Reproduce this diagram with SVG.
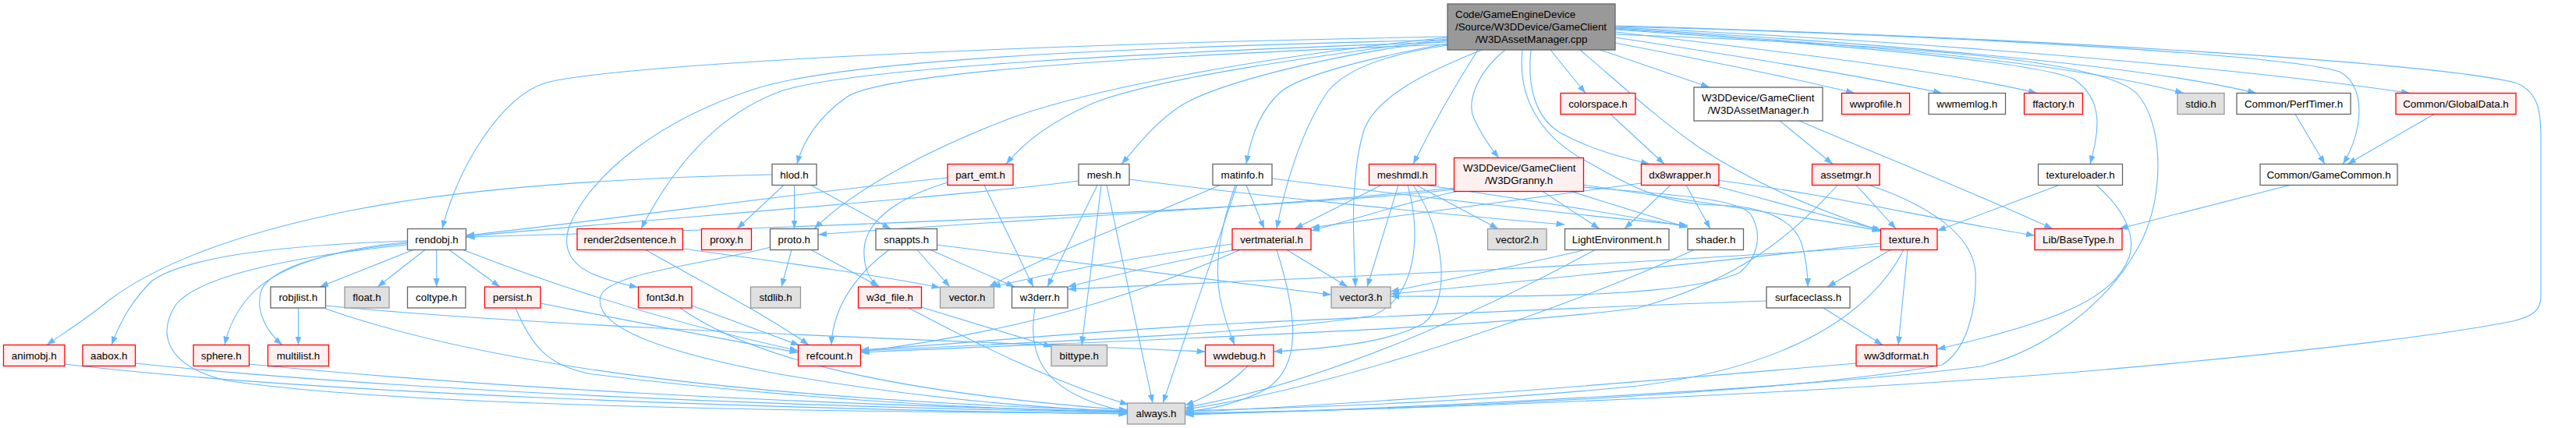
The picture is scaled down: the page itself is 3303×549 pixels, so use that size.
<svg xmlns="http://www.w3.org/2000/svg" width="3303" height="549" viewBox="0 0 3303 549">
<defs>
<marker id="ah" viewBox="0 0 11 8" refX="11" refY="4" markerWidth="11" markerHeight="8" markerUnits="userSpaceOnUse" orient="auto"><path d="M0,0L11,4L0,8z" fill="#63b8ff"/></marker>
<style>
.e path{fill:none;stroke:#63b8ff;stroke-width:1.1;marker-end:url(#ah)}
rect{stroke-width:1.3}
.w{fill:#ffffff;stroke:#666666}
.g{fill:#e0e0e0;stroke:#999999}
.r{fill:#fff0f0;stroke:#ff0000}
.m{fill:#999999;stroke:#666666}
text{font-family:"Liberation Sans",Arial,sans-serif;font-size:13.33px;fill:#000000;text-anchor:middle}
text.l{text-anchor:start}
</style>
</defs>
<rect width="3303" height="549" fill="#ffffff"/>
<g class="e" id="edges">
<path d="M1856,47 C1400,55 820,78 700,106 C640,125 585,220 567,293.5"/>
<path d="M1856,51 C1400,62 1080,78 968,114 C850,152 760,220 730,290 C715,335 750,355 818,368.5"/>
<path d="M1856,54 C1500,66 1100,86 1004,116 C930,142 870,200 822,293.5"/>
<path d="M1856,57 C1500,70 1130,92 1085,125 C1050,150 1030,180 1022,210.5"/>
<path d="M1856,48 C1600,75 1400,115 1300,150 C1200,188 1100,238 1044,293.5"/>
<path d="M1856,50 C1700,70 1480,100 1400,133 C1350,155 1315,180 1290,210.5"/>
<path d="M1856,52 C1700,70 1560,108 1515,135 C1480,158 1460,185 1438,210.5"/>
<path d="M1856,56 C1750,75 1665,98 1642,118 C1615,142 1603,180 1598,210.5"/>
<path d="M1856,58 C1760,72 1720,95 1702,118 C1670,165 1648,235 1637,293.5"/>
<path d="M1900,64 C1840,88 1762,122 1748,170 C1730,232 1736,320 1738,368"/>
<path d="M1895,64 C1872,100 1842,150 1812,210.5"/>
<path d="M1930,64 C1895,92 1880,130 1890,152 C1898,170 1910,188 1922,202.5"/>
<path d="M1988,64 L2033,119.5"/>
<path d="M1963,64 C1958,110 1968,150 2000,170 C2040,192 2080,202 2115,210.5"/>
<path d="M1952,64 C1945,130 1980,180 2040,210 C2100,245 2140,262 2200,263 C2262,264 2300,282 2310,312 C2316,332 2318,350 2318,368"/>
<path d="M2026,64 C2080,110 2125,152 2180,190 C2260,242 2340,272 2414,297"/>
<path d="M2052,64 L2192,112"/>
<path d="M2071,55 C2200,80 2300,100 2378,119.5"/>
<path d="M2071,48 C2250,75 2400,100 2490,119.5"/>
<path d="M2071,41 C2300,68 2500,92 2612,119.5"/>
<path d="M2071,38 C2400,60 2620,82 2660,102 C2700,130 2690,172 2680,210.5"/>
<path d="M2071,37 C2400,58 2650,80 2800,119.5"/>
<path d="M2071,36 C2400,55 2740,82 2893,119.5"/>
<path d="M2071,35 C2500,55 2880,88 3090,119.5"/>
<path d="M2071,34 C2500,45 2930,70 3000,92 C3035,110 3030,170 3004,210.5"/>
<path d="M2071,33 C2600,48 3120,80 3225,106 C3258,118 3258,150 3258,180 L3258,380 C3258,400 3245,406 3222,412 C3080,440 2800,465 2700,474 C2400,500 1900,524 1519.5,530"/>
<path d="M2071,44 C2500,60 2700,80 2740,120 C2776,160 2776,260 2740,320 C2700,392 2620,450 2540,470 C2300,500 1800,524 1519.5,532"/>
<path d="M2065,146.5 L2134,210.5"/>
<path d="M2282,155 L2350,210.5"/>
<path d="M2307,155 C2400,195 2550,255 2632,293.5"/>
<path d="M2943,146.5 L2981,210.5"/>
<path d="M3121,146.5 L3010,210.5"/>
<path d="M2936,237.5 L2717,293.5"/>
<path d="M990,224 C800,228 600,240 450,270 C300,300 200,340 140,385 C110,410 80,428 60,442.5"/>
<path d="M1005,237.5 L945,293.5"/>
<path d="M1018.5,237.5 L1018.5,293.5"/>
<path d="M1040,237.5 L1142,293.5"/>
<path d="M1215,228 C1000,250 800,280 597.5,302"/>
<path d="M1215,234 C1160,250 1110,280 1108,320 C1107,345 1115,358 1126,368"/>
<path d="M1262,237.5 L1325,368"/>
<path d="M1383,232 C1250,250 900,276 597.5,303"/>
<path d="M1407,237.5 L1343,368"/>
<path d="M1412,237.5 L1387,442.5"/>
<path d="M1419,237.5 L1478,517"/>
<path d="M1448,230 C1600,250 1850,275 2006.5,288"/>
<path d="M1598,237.5 L1621,293.5"/>
<path d="M1564,237.5 C1480,275 1350,322 1268,368"/>
<path d="M1586,237.5 L1491,517"/>
<path d="M1584,237.5 C1565,290 1557,340 1564,380 C1570,410 1578,430 1583,442.5"/>
<path d="M1631,229 C1800,250 2000,274 2164,289"/>
<path d="M1771,237.5 L1660,293.5"/>
<path d="M1793,237.5 L1753,368"/>
<path d="M1816,237.5 L1921,293.5"/>
<path d="M1828,237.5 C1950,255 2080,276 2164,291"/>
<path d="M1805,237.5 C1822,300 1818,380 1760,405 C1600,430 1300,440 1103.5,450"/>
<path d="M1812,237.5 C1855,300 1860,390 1825,415 C1780,440 1700,447 1633,451"/>
<path d="M1864.5,243 C1700,262 1200,288 597.5,304"/>
<path d="M1864.5,241 C1600,268 1250,285 1049,301"/>
<path d="M1868,245.5 C1800,260 1750,278 1681,296"/>
<path d="M1978,245.5 L2051,293.5"/>
<path d="M2014,245.5 L2164,292"/>
<path d="M2030.5,237 C2150,255 2300,276 2411.5,296"/>
<path d="M2030.5,240 C2150,250 2230,255 2245,275 C2260,300 2255,330 2230,350 C2150,385 1900,380 1783,380"/>
<path d="M2104.5,235 C1950,255 1800,276 1681,292"/>
<path d="M2142,237.5 L2083,293.5"/>
<path d="M2162,237.5 L2193,293.5"/>
<path d="M2196,237.5 C2280,260 2350,280 2411.5,295"/>
<path d="M2204,231.5 C2350,250 2480,282 2609,302"/>
<path d="M2380,237.5 L2431,293.5"/>
<path d="M2356,237.5 C2300,300 2230,360 2100,395 C1900,422 1500,434 1103.5,452"/>
<path d="M2397,237.5 C2470,262 2530,300 2533,350 C2535,400 2520,450 2490,468 C2300,505 1800,526 1519.5,531"/>
<path d="M2640,237.5 L2484,296"/>
<path d="M2688,237.5 C2720,265 2740,300 2730,330 C2710,380 2650,410 2483.5,448"/>
<path d="M2172,320.5 C2000,400 1700,500 1519.5,525"/>
<path d="M2032,320.5 C1950,340 1850,360 1783,374"/>
<path d="M2045,320.5 C1900,400 1700,490 1519.5,523"/>
<path d="M2424,320.5 L2343,368"/>
<path d="M2446,320.5 L2434,442.5"/>
<path d="M2441,320.5 C2400,400 2300,470 2100,495 C1900,515 1700,522 1519.5,527"/>
<path d="M2411.5,312 C2200,335 1950,362 1783,377"/>
<path d="M2411.5,316 C2000,345 1600,360 1369,371"/>
<path d="M2338,395 L2414,442.5"/>
<path d="M2265,386 C2000,395 1700,410 1600,414 C1400,424 1250,440 1103.5,449"/>
<path d="M1650,320.5 L1728,368"/>
<path d="M1580,313 C1450,330 1350,350 1272,368"/>
<path d="M1583,320.5 C1480,340 1420,355 1369,368"/>
<path d="M1590,320.5 C1500,360 1350,420 1103.5,451"/>
<path d="M1637,320.5 C1662,400 1672,470 1622,500 C1582,520 1550,525 1519.5,528"/>
<path d="M1181.5,394 L1349,445"/>
<path d="M1165,395 C1250,440 1350,490 1447,519"/>
<path d="M1327,395 C1318,450 1330,505 1445.5,528"/>
<path d="M1176,320.5 L1218,368"/>
<path d="M1193,320.5 L1301,368"/>
<path d="M1140,320.5 C1100,350 1068,392 1066,442.5"/>
<path d="M1201.5,314 C1400,340 1600,366 1707,378"/>
<path d="M1015,320.5 L1002,368"/>
<path d="M1040,320.5 L1128,368"/>
<path d="M988,317 C900,340 780,350 770,380 C760,420 850,452 1000,480 C1150,506 1300,522 1445.5,528"/>
<path d="M828,320.5 C900,362 980,402 1037,442.5"/>
<path d="M875.5,319 C1000,336 1120,352 1205.5,369"/>
<path d="M530,320.5 L410,368"/>
<path d="M545,320.5 L484,368"/>
<path d="M559.75,320.5 L559.75,368"/>
<path d="M576,320.5 L641,368"/>
<path d="M594,320.5 C700,362 850,412 1023.5,450"/>
<path d="M522.5,309 C350,315 240,330 195,360 C170,385 155,410 143,442.5"/>
<path d="M522.5,310.5 C420,320 350,345 320,380 C302,400 293,420 288,442.5"/>
<path d="M522.5,312 C420,322 352,342 336,370 C326,395 340,424 362,442.5"/>
<path d="M522.5,314 C400,326 260,350 226,390 C200,430 215,470 290,488 C500,520 1000,528 1445.5,530"/>
<path d="M382.5,395 L382.5,442.5"/>
<path d="M417.5,392 C700,420 1200,436 1545.5,451"/>
<path d="M417.5,396 C600,460 900,510 1445.5,527"/>
<path d="M83,467 C400,505 1000,525 1445.5,531"/>
<path d="M173.5,466 C500,500 1000,522 1445.5,529"/>
<path d="M319.5,467 C600,495 1000,518 1445.5,528"/>
<path d="M693,389 C850,420 950,440 1023.5,452"/>
<path d="M661,395 C680,440 700,470 760,480 C1000,510 1250,525 1445.5,529"/>
<path d="M887,392 C950,415 990,430 1025,443"/>
<path d="M872,395 C950,450 1100,500 1445.5,526"/>
<path d="M2380,466 C2100,490 1800,515 1519.5,529"/>
<path d="M1600,469.5 C1580,490 1550,508 1519.5,520"/>
</g>
<g id="n_main"><rect class="m" x="1856" y="5" width="215" height="59"/><text class="l" x="1866" y="23">Code/GameEngineDevice</text><text class="l" x="1866" y="39">/Source/W3DDevice/GameClient</text><text x="1963.5" y="55">/W3DAssetManager.cpp</text></g>
<g id="n_colorspace"><rect class="r" x="2001" y="119.5" width="96" height="27"/><text x="2049" y="137.8">colorspace.h</text></g>
<g id="n_w3dam_h"><rect class="w" x="2172" y="112" width="165" height="43"/><text class="l" x="2182" y="130.2">W3DDevice/GameClient</text><text x="2254.5" y="146.2">/W3DAssetManager.h</text></g>
<g id="n_wwprofile"><rect class="r" x="2361.5" y="119.5" width="87" height="27"/><text x="2405" y="137.8">wwprofile.h</text></g>
<g id="n_wwmemlog"><rect class="w" x="2473" y="119.5" width="98.5" height="27"/><text x="2522.25" y="137.8">wwmemlog.h</text></g>
<g id="n_ffactory"><rect class="r" x="2595.5" y="119.5" width="75" height="27"/><text x="2633" y="137.8">ffactory.h</text></g>
<g id="n_stdio"><rect class="g" x="2792" y="119.5" width="60" height="27"/><text x="2822" y="137.8">stdio.h</text></g>
<g id="n_perftimer"><rect class="w" x="2868" y="119.5" width="146" height="27"/><text x="2941" y="137.8">Common/PerfTimer.h</text></g>
<g id="n_globaldata"><rect class="r" x="3072" y="119.5" width="154" height="27"/><text x="3149" y="137.8">Common/GlobalData.h</text></g>
<g id="n_hlod"><rect class="w" x="990" y="210.5" width="57" height="27"/><text x="1018.5" y="228.8">hlod.h</text></g>
<g id="n_part_emt"><rect class="r" x="1215" y="210.5" width="84" height="27"/><text x="1257" y="228.8">part_emt.h</text></g>
<g id="n_mesh"><rect class="w" x="1383" y="210.5" width="65" height="27"/><text x="1415.5" y="228.8">mesh.h</text></g>
<g id="n_matinfo"><rect class="w" x="1555" y="210.5" width="76" height="27"/><text x="1593" y="228.8">matinfo.h</text></g>
<g id="n_meshmdl"><rect class="r" x="1755.5" y="210.5" width="85.5" height="27"/><text x="1798.25" y="228.8">meshmdl.h</text></g>
<g id="n_granny"><rect class="r" x="1864.5" y="202.5" width="166" height="43"/><text class="l" x="1876" y="220.2">W3DDevice/GameClient</text><text x="1947.5" y="236.2">/W3DGranny.h</text></g>
<g id="n_dx8wrapper"><rect class="r" x="2104.5" y="210.5" width="99.5" height="27"/><text x="2154.25" y="228.8">dx8wrapper.h</text></g>
<g id="n_assetmgr"><rect class="r" x="2323.5" y="210.5" width="86.5" height="27"/><text x="2366.75" y="228.8">assetmgr.h</text></g>
<g id="n_textureloader"><rect class="w" x="2613.5" y="210.5" width="108" height="27"/><text x="2667.5" y="228.8">textureloader.h</text></g>
<g id="n_gamecommon"><rect class="w" x="2898" y="210.5" width="176" height="27"/><text x="2986" y="228.8">Common/GameCommon.h</text></g>
<g id="n_rendobj"><rect class="w" x="522.5" y="293.5" width="75" height="27"/><text x="560" y="311.8">rendobj.h</text></g>
<g id="n_render2dsentence"><rect class="r" x="740" y="293.5" width="135.5" height="27"/><text x="807.75" y="311.8">render2dsentence.h</text></g>
<g id="n_proxy"><rect class="r" x="899.5" y="293.5" width="64" height="27"/><text x="931.5" y="311.8">proxy.h</text></g>
<g id="n_proto"><rect class="w" x="987.5" y="293.5" width="61.5" height="27"/><text x="1018.25" y="311.8">proto.h</text></g>
<g id="n_snappts"><rect class="w" x="1123" y="293.5" width="78.5" height="27"/><text x="1162.25" y="311.8">snappts.h</text></g>
<g id="n_vertmaterial"><rect class="r" x="1580" y="293.5" width="101" height="27"/><text x="1630.5" y="311.8">vertmaterial.h</text></g>
<g id="n_vector2"><rect class="g" x="1907.5" y="293.5" width="75.5" height="27"/><text x="1945.25" y="311.8">vector2.h</text></g>
<g id="n_lightenv"><rect class="w" x="2006.5" y="293.5" width="133.5" height="27"/><text x="2073.25" y="311.8">LightEnvironment.h</text></g>
<g id="n_shader"><rect class="w" x="2164" y="293.5" width="71.5" height="27"/><text x="2199.75" y="311.8">shader.h</text></g>
<g id="n_texture"><rect class="r" x="2411.5" y="293.5" width="72.5" height="27"/><text x="2447.75" y="311.8">texture.h</text></g>
<g id="n_basetype"><rect class="r" x="2609" y="293.5" width="112" height="27"/><text x="2665" y="311.8">Lib/BaseType.h</text></g>
<g id="n_robjlist"><rect class="w" x="347" y="368" width="70.5" height="27"/><text x="382.25" y="386.3">robjlist.h</text></g>
<g id="n_float"><rect class="g" x="442" y="368" width="57" height="27"/><text x="470.5" y="386.3">float.h</text></g>
<g id="n_coltype"><rect class="w" x="522.5" y="368" width="74.5" height="27"/><text x="559.75" y="386.3">coltype.h</text></g>
<g id="n_persist"><rect class="r" x="621.5" y="368" width="71.5" height="27"/><text x="657.25" y="386.3">persist.h</text></g>
<g id="n_font3d"><rect class="r" x="818.5" y="368" width="68.5" height="27"/><text x="852.75" y="386.3">font3d.h</text></g>
<g id="n_stdlib"><rect class="g" x="962.5" y="368" width="64" height="27"/><text x="994.5" y="386.3">stdlib.h</text></g>
<g id="n_w3d_file"><rect class="r" x="1100.5" y="368" width="81" height="27"/><text x="1141" y="386.3">w3d_file.h</text></g>
<g id="n_vector"><rect class="g" x="1205.5" y="368" width="69" height="27"/><text x="1240" y="386.3">vector.h</text></g>
<g id="n_w3derr"><rect class="w" x="1297.5" y="368" width="71.5" height="27"/><text x="1333.25" y="386.3">w3derr.h</text></g>
<g id="n_vector3"><rect class="g" x="1707" y="368" width="76" height="27"/><text x="1745" y="386.3">vector3.h</text></g>
<g id="n_surfaceclass"><rect class="w" x="2265" y="368" width="107" height="27"/><text x="2318.5" y="386.3">surfaceclass.h</text></g>
<g id="n_animobj"><rect class="r" x="4.5" y="442.5" width="78.5" height="27"/><text x="43.75" y="460.8">animobj.h</text></g>
<g id="n_aabox"><rect class="r" x="106" y="442.5" width="67.5" height="27"/><text x="139.75" y="460.8">aabox.h</text></g>
<g id="n_sphere"><rect class="r" x="248" y="442.5" width="71.5" height="27"/><text x="283.75" y="460.8">sphere.h</text></g>
<g id="n_multilist"><rect class="r" x="343.5" y="442.5" width="78" height="27"/><text x="382.5" y="460.8">multilist.h</text></g>
<g id="n_refcount"><rect class="r" x="1023.5" y="442.5" width="80" height="27"/><text x="1063.5" y="460.8">refcount.h</text></g>
<g id="n_bittype"><rect class="g" x="1348" y="442.5" width="71.5" height="27"/><text x="1383.75" y="460.8">bittype.h</text></g>
<g id="n_wwdebug"><rect class="r" x="1545.5" y="442.5" width="87.5" height="27"/><text x="1589.25" y="460.8">wwdebug.h</text></g>
<g id="n_ww3dformat"><rect class="r" x="2380" y="442.5" width="103.5" height="27"/><text x="2431.75" y="460.8">ww3dformat.h</text></g>
<g id="n_always"><rect class="g" x="1445.5" y="517" width="74" height="27"/><text x="1482.5" y="535.3">always.h</text></g>
</svg>
